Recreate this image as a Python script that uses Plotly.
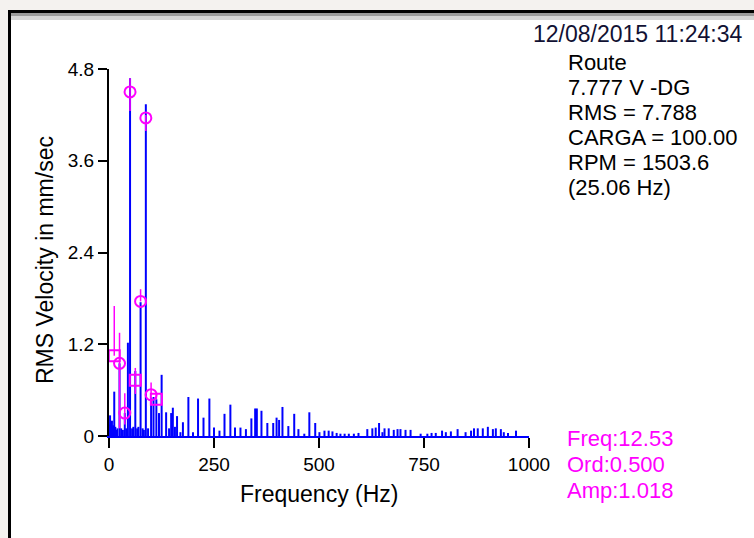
import plotly.graph_objects as go

# ---------------- data ----------------
run_speed_hz = 25.06
spec_freq = [1.5, 2.5, 4, 5.5, 7, 8.5, 10, 12.5, 15, 17.5, 20, 25.06, 29, 33, 37.59, 41, 45,
             50.12, 55, 58, 62.65, 67, 70, 75.18, 80, 83, 87.71, 93, 100.24, 106, 112.77, 119,
             125.3, 136, 143, 148, 152, 157, 162, 170, 176, 189, 200, 212, 225, 239, 250, 263,
             275, 289, 300, 313, 326, 339, 348, 352, 363, 377, 391, 399, 405, 413, 427, 441,
             451, 465, 477, 491, 501, 513, 523, 532, 542, 551, 561, 571, 583, 594, 615, 627,
             635, 643, 651, 656, 666, 678, 687, 694, 706, 718, 742, 758, 768, 778, 793, 802,
             814, 830, 849, 862, 869, 878, 890, 902, 914, 921, 933, 940, 950, 969]
spec_amp = [0.15, 0.27, 0.18, 0.12, 0.20, 0.10, 0.14, 0.58, 0.12, 0.08, 0.10, 0.95, 0.10, 0.08,
            0.30, 0.10, 1.22, 4.68, 0.10, 0.12, 0.85, 0.10, 0.12, 1.75, 0.10, 0.08, 4.34, 0.10,
            0.50, 0.51, 0.48, 0.30, 0.80, 0.31, 0.10, 0.30, 0.37, 0.12, 0.26, 0.05, 0.18, 0.51,
            0.05, 0.49, 0.24, 0.49, 0.11, 0.07, 0.29, 0.41, 0.11, 0.11, 0.09, 0.23, 0.36, 0.36,
            0.33, 0.17, 0.17, 0.24, 0.21, 0.38, 0.13, 0.29, 0.09, 0.03, 0.31, 0.17, 0.05, 0.07,
            0.07, 0.06, 0.04, 0.03, 0.03, 0.03, 0.03, 0.04, 0.09, 0.10, 0.11, 0.17, 0.05, 0.10,
            0.10, 0.08, 0.09, 0.09, 0.08, 0.08, 0.03, 0.03, 0.04, 0.04, 0.07, 0.05, 0.06, 0.09,
            0.05, 0.07, 0.10, 0.10, 0.10, 0.12, 0.09, 0.10, 0.09, 0.05, 0.04, 0.07]

orders = [0.5, 1, 1.5, 2, 2.5, 3, 3.5, 4, 4.5]
order_amp = [1.05, 0.95, 0.30, 4.50, 0.73, 1.76, 4.16, 0.54, 0.48]
order_hi = [1.70, 1.35, 0.56, 4.68, 0.89, 1.92, 4.20, 0.70, 0.55]
order_lo = [1.05, 0.10, 0.15, 4.25, 0.55, 1.76, 3.99, 0.54, 0.48]
order_symbol = ["square-open", "circle-open", "circle-open", "circle-open", "square-open",
                "circle-open", "circle-open", "circle-open", "square-open"]

x_ticks = [0, 250, 500, 750, 1000]
y_ticks = [0, 1.2, 2.4, 3.6, 4.8]
y_tick_text = ["0", "1.2", "2.4", "3.6", "4.8"]

info_lines = ["Route", "7.777 V -DG", "RMS = 7.788", "CARGA = 100.00", "RPM = 1503.6", "(25.06 Hz)"]
date_text = "12/08/2015 11:24:34"
cursor_lines = ["Freq:12.53", "Ord:0.500", "Amp:1.018"]

# ---------------- figure ----------------
W, H = 754, 538
L, R, T, B = 109, 225, 69, 102
pw, ph = W - L - R, H - T - B

def px(x):
    return (x - L) / pw

def py(y):
    return (H - B - y) / ph

FONT = "Liberation Sans, Arial, sans-serif"

stem_x, stem_y = [], []
for f, a in zip(spec_freq, spec_amp):
    stem_x += [f, f, None]
    stem_y += [0, a, None]

order_freq = [o * run_speed_hz for o in orders]
err_plus = [h - a for h, a in zip(order_hi, order_amp)]
err_minus = [a - l for a, l in zip(order_amp, order_lo)]

fig = go.Figure()
fig.add_trace(go.Scatter(x=stem_x, y=stem_y, mode="lines",
                         line=dict(color="#0000ff", width=2), hoverinfo="skip"))
fig.add_trace(go.Scatter(x=order_freq, y=order_amp, mode="markers",
                         marker=dict(symbol=order_symbol, size=11, color="#ff00ff",
                                     line=dict(color="#ff00ff", width=2)),
                         error_y=dict(type="data", symmetric=False, array=err_plus,
                                      arrayminus=err_minus, color="#ff00ff",
                                      thickness=1.5, width=0)))

fig.update_xaxes(range=[0, 1000], tickvals=x_ticks, ticks="outside", ticklen=10,
                 tickwidth=2, tickcolor="black", showline=True, linecolor="#0000ff",
                 linewidth=2, showgrid=False, zeroline=False,
                 tickfont=dict(family=FONT, size=19, color="black"))
fig.update_yaxes(range=[0, 4.8], tickvals=y_ticks, ticktext=y_tick_text, ticks="outside",
                 ticklen=9, tickwidth=2, tickcolor="black", showline=True,
                 linecolor="black", linewidth=2, showgrid=False, zeroline=False,
                 tickfont=dict(family=FONT, size=19, color="black"))

ann = []
def add_text(x, y, text, size, color, xanchor="left", angle=0):
    ann.append(dict(xref="paper", yref="paper", x=x, y=y, text=text, showarrow=False,
                    textangle=angle, xanchor=xanchor, yanchor="middle",
                    font=dict(family=FONT, size=size, color=color)))

add_text(0.5, py(494), "Frequency (Hz)", 23, "black", "center")
add_text(px(45), py(260), "RMS Velocity in mm/sec", 23, "black", "center", -90)
add_text(px(745), py(34), date_text, 23, "#111133", "right")
for i, t in enumerate(info_lines):
    add_text(px(566), py(63 + 24.8 * i), t, 22, "black")
for i, t in enumerate(cursor_lines):
    add_text(px(565), py(438 + 26.5 * i), t, 22, "#ff00ff")

shapes = [
    dict(type="rect", xref="paper", yref="paper", x0=px(0), x1=px(W), y0=py(10), y1=py(0),
         fillcolor="#f4f2ef", line=dict(width=0)),
    dict(type="rect", xref="paper", yref="paper", x0=px(0), x1=px(8), y0=py(H), y1=py(0),
         fillcolor="#f4f2ef", line=dict(width=0)),
    dict(type="rect", xref="paper", yref="paper", x0=px(8), x1=px(W), y0=py(13), y1=py(10),
         fillcolor="black", line=dict(width=0)),
    dict(type="rect", xref="paper", yref="paper", x0=px(11), x1=px(W), y0=py(16), y1=py(13),
         fillcolor="#9a9a9a", line=dict(width=0)),
    dict(type="rect", xref="paper", yref="paper", x0=px(11), x1=px(W), y0=py(20), y1=py(16),
         fillcolor="#d4d4d4", line=dict(width=0)),
    dict(type="rect", xref="paper", yref="paper", x0=px(8), x1=px(11), y0=py(H), y1=py(10),
         fillcolor="black", line=dict(width=0)),
]

fig.update_layout(width=W, height=H, margin=dict(l=L, r=R, t=T, b=B),
                  paper_bgcolor="white", plot_bgcolor="white", showlegend=False,
                  annotations=ann, shapes=shapes)

fig.write_html("out.html", config={"displayModeBar": False},
               post_script="document.body.style.margin='0';document.body.style.overflow='hidden';")
